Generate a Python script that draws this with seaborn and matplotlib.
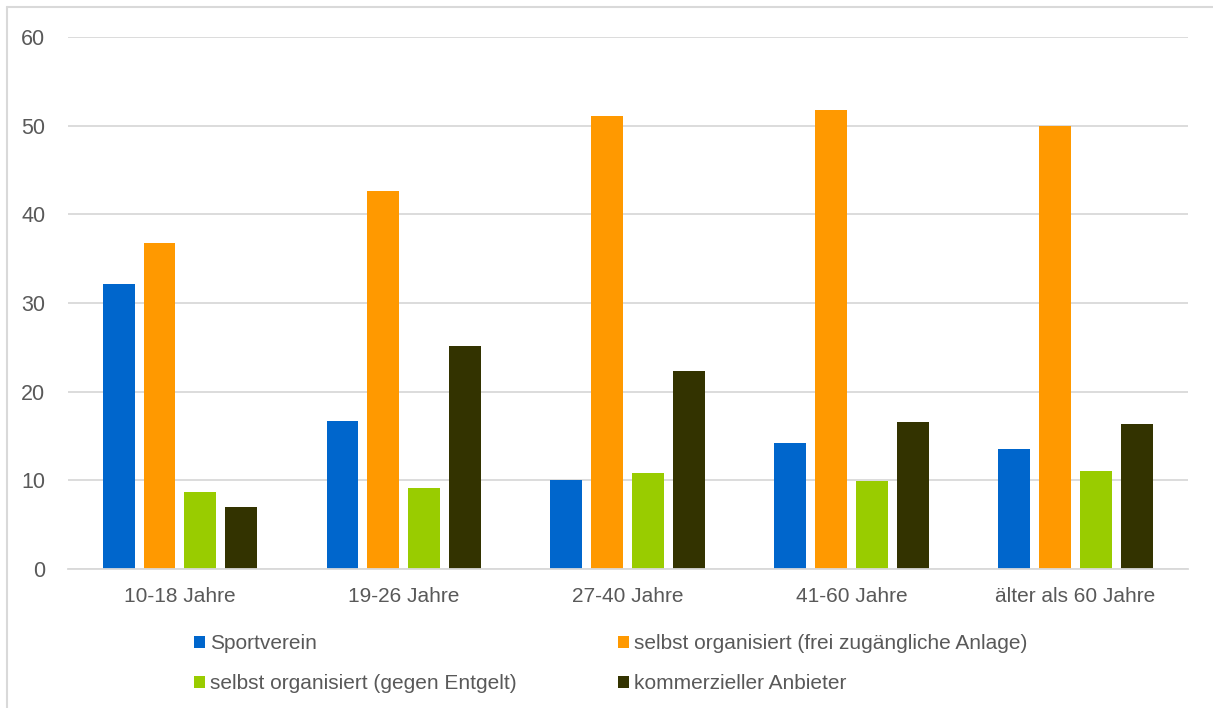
import matplotlib
matplotlib.use("Agg")
import matplotlib.pyplot as plt
from matplotlib.lines import Line2D
import seaborn as sns
import pandas as pd

categories = ["10-18 Jahre", "19-26 Jahre", "27-40 Jahre", "41-60 Jahre", "älter als 60 Jahre"]
series_names = [
    "Sportverein",
    "selbst organisiert (frei zugängliche Anlage)",
    "selbst organisiert (gegen Entgelt)",
    "kommerzieller Anbieter",
]
sportverein = [32.1, 16.7, 10.0, 14.2, 13.5]
frei = [36.8, 42.6, 51.1, 51.7, 49.9]
entgelt = [8.7, 9.2, 10.9, 9.9, 11.1]
kommerziell = [7.0, 25.2, 22.3, 16.6, 16.4]
colors = ["#0066CC", "#FF9900", "#99CC00", "#333300"]
yticks = [0, 10, 20, 30, 40, 50, 60]

rows = []
for name, vals in zip(series_names, [sportverein, frei, entgelt, kommerziell]):
    for c, v in zip(categories, vals):
        rows.append({"Gruppe": c, "Serie": name, "Wert": v})
df = pd.DataFrame(rows)

sns.set_theme(style="white")
plt.rcParams["font.family"] = ["Liberation Sans", "DejaVu Sans"]
text_color = "#595959"
grid_color = "#D9D9D9"

fig = plt.figure(figsize=(12.13, 7.08), dpi=100)
ax = fig.add_axes([0.056, 0.196, 0.923, 0.752])

sns.barplot(data=df, x="Gruppe", y="Wert", hue="Serie", order=categories,
            hue_order=series_names, palette=colors, width=0.73, gap=0.22,
            saturation=1, ax=ax, errorbar=None, linewidth=0)

ax.set_ylim(0, 60)
ax.set_yticks(yticks)
ax.set_xlim(-0.5, len(categories) - 0.5)
ax.set_xlabel("")
ax.set_ylabel("")
ax.grid(axis="y", color=grid_color, linewidth=1.3)
ax.set_axisbelow(True)
for s in ["top", "right", "left"]:
    ax.spines[s].set_visible(False)
ax.spines["bottom"].set_color(grid_color)
ax.spines["bottom"].set_linewidth(1.3)
ax.tick_params(axis="x", length=0, labelsize=15, colors=text_color, pad=12.5)
ax.tick_params(axis="y", length=0, labelsize=15.5, colors=text_color, pad=16.3)

handles, labels = ax.get_legend_handles_labels()
ax.legend_.remove()
order = [0, 2, 1, 3]
leg = fig.legend([handles[i] for i in order], [labels[i] for i in order],
                 ncol=2, loc="upper left", bbox_to_anchor=(0.16, 0.104),
                 frameon=False, fontsize=15, handlelength=0.53, handleheight=0.53,
                 handletextpad=0.22, columnspacing=4.9, labelspacing=1.0,
                 borderpad=0, borderaxespad=0)
for t in leg.get_texts():
    t.set_color(text_color)

fig.add_artist(Line2D([7 / 1213, 1], [1 - 7 / 708, 1 - 7 / 708], transform=fig.transFigure,
                      color=grid_color, linewidth=1.5))
fig.add_artist(Line2D([7 / 1213, 7 / 1213], [0, 1 - 7 / 708], transform=fig.transFigure,
                      color=grid_color, linewidth=1.5))

fig.savefig("out.png", dpi=100)
